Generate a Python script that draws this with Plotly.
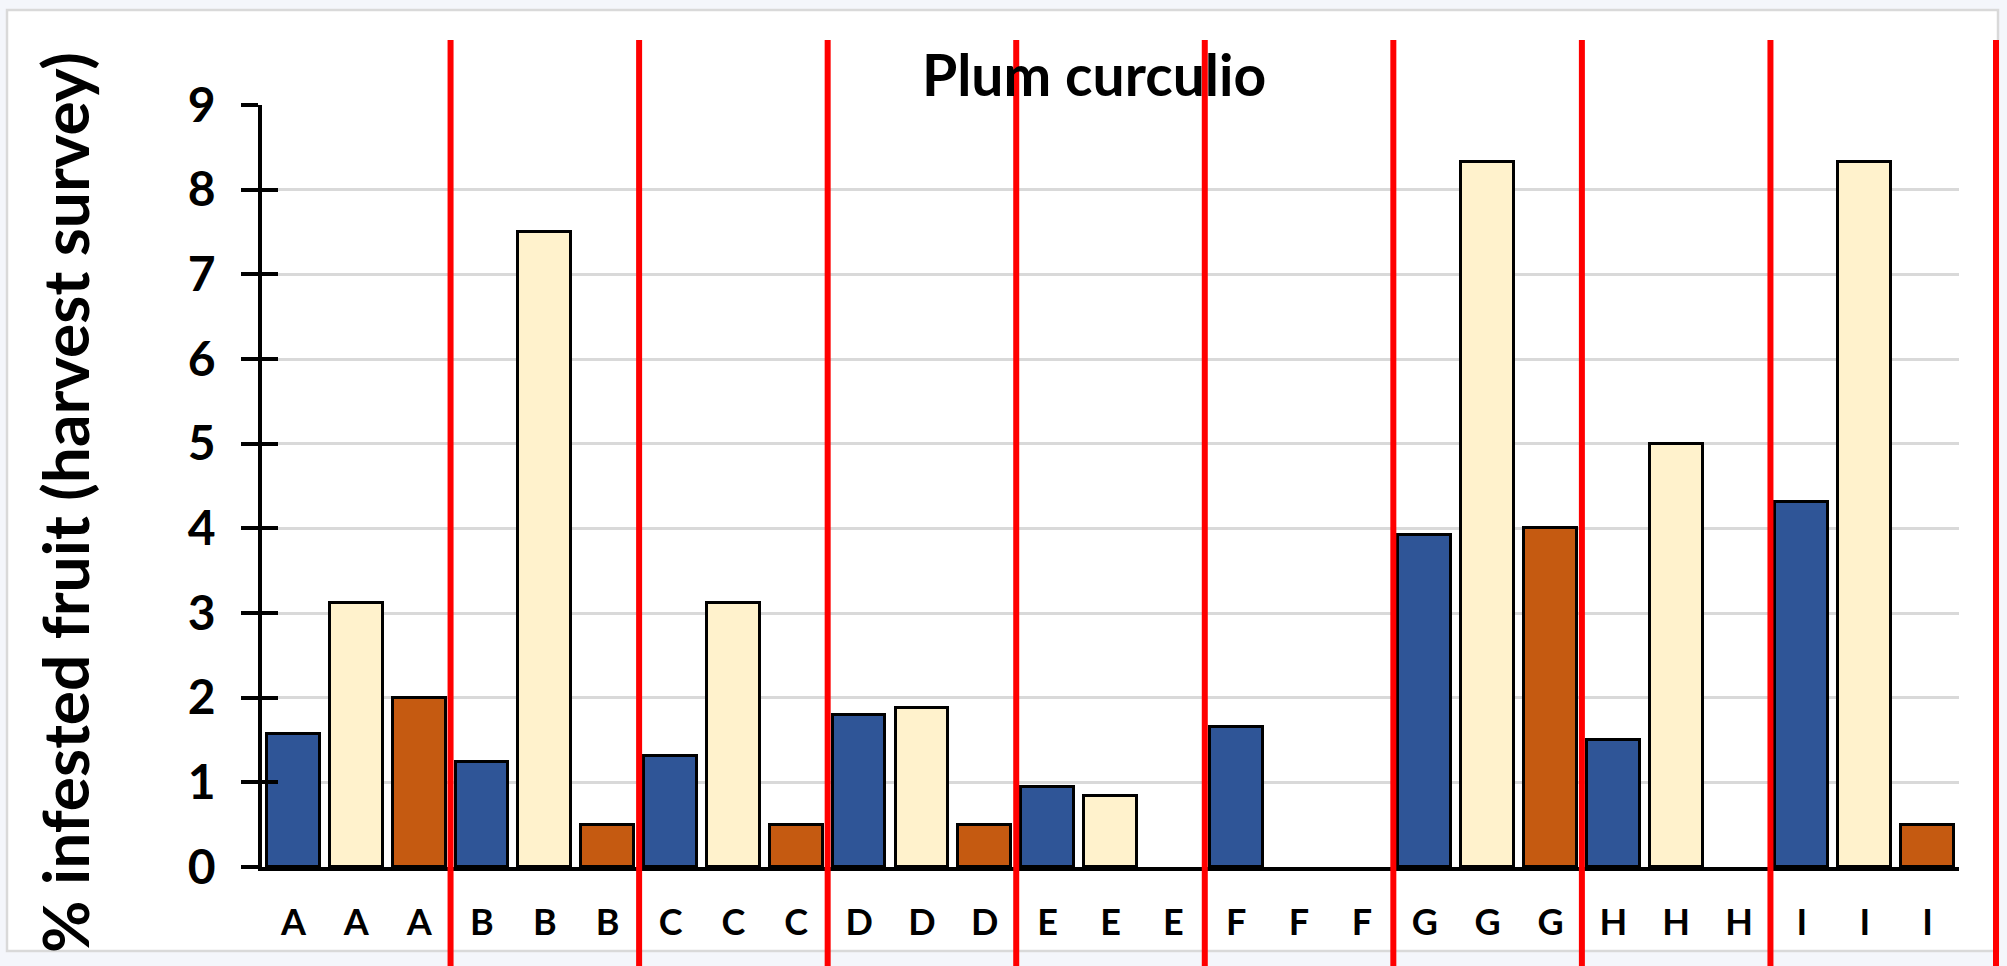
import plotly.graph_objects as go

# ---- data ----
sites = ["A", "B", "C", "D", "E", "F", "G", "H", "I"]
tick_labels = [s for s in sites for _ in range(3)]
series_blue = [1.57, 1.24, 1.31, 1.80, 0.94, 1.65, 3.92, 1.50, 4.31]
series_cream = [3.12, 7.50, 3.12, 1.88, 0.84, 0.00, 8.33, 5.00, 8.33]
series_orange = [2.00, 0.50, 0.50, 0.50, 0.00, 0.00, 4.00, 0.00, 0.50]
title_text = "Plum curculio"
y_title = "% infested fruit (harvest survey)"

colors = ["#2F5597", "#FFF2CC", "#C55A11"]
FONT = "Lato"

W, H = 2007, 966
ML, MR, MT, MB = 262, 48, 105, 99
PW = W - ML - MR
PH = H - MT - MB
ncat = len(tick_labels)

fig = go.Figure()
for k, (vals, col) in enumerate(zip([series_blue, series_cream, series_orange], colors)):
    fig.add_trace(go.Bar(
        x=[3 * i + k for i in range(len(sites))],
        y=vals,
        width=0.84,
        marker=dict(color=col,
                    line=dict(color="black", width=[3 if v > 0 else 0 for v in vals])),
        showlegend=False,
        yaxis="y",
        hoverinfo="skip",
    ))

# invisible trace for overlay axis (inside ticks)
fig.add_trace(go.Scatter(x=[0], y=[0], mode="markers", marker=dict(opacity=0),
                         yaxis="y2", showlegend=False, hoverinfo="skip"))

def px2paper_x(px):
    return (px - ML) / PW

def px2paper_y(py):
    return (H - MB - py) / PH

shapes = []
# outer chart border
shapes.append(dict(type="rect", xref="paper", yref="paper",
                   x0=px2paper_x(7), x1=px2paper_x(1998),
                   y0=px2paper_y(951), y1=px2paper_y(10),
                   line=dict(color="#D9D9D9", width=2.5), fillcolor="white", layer="below"))
# red separator lines between site groups
for g in range(1, len(sites) + 1):
    xb = (3 * g) / ncat
    if g == len(sites):
        xb = px2paper_x(1996)
    shapes.append(dict(type="line", xref="paper", yref="paper",
                       x0=xb, x1=xb, y0=-0.2, y1=px2paper_y(40),
                       line=dict(color="#FF0000", width=6), layer="above"))

annotations = [
    dict(text=title_text, xref="paper", yref="paper", x=px2paper_x(1094), y=px2paper_y(74),
         xanchor="center", yanchor="middle", showarrow=False,
         font=dict(family=FONT, size=57, color="black", weight="bold")),
    dict(text=y_title, xref="paper", yref="paper", x=px2paper_x(64), y=px2paper_y(503),
         xanchor="center", yanchor="middle", showarrow=False, textangle=-90,
         font=dict(family=FONT, size=64, color="black", weight="bold")),
]

fig.update_layout(
    width=W, height=H,
    margin=dict(l=ML, r=MR, t=MT, b=MB, autoexpand=False),
    paper_bgcolor="#F4F6FB",
    plot_bgcolor="white",
    barmode="overlay",
    bargap=0,
    shapes=shapes,
    annotations=annotations,
    hovermode=False,
    xaxis=dict(
        range=[-0.5, ncat - 0.5],
        tickmode="array",
        tickvals=list(range(ncat)),
        ticktext=tick_labels,
        showline=True, linecolor="black", linewidth=3.5,
        ticks="", showgrid=False, zeroline=False,
        tickfont=dict(family=FONT, size=36, color="black", weight="bold"),
        ticklabelstandoff=21,
        automargin=False,
    ),
    yaxis=dict(
        range=[0, 9], dtick=1, tick0=0,
        showline=True, linecolor="black", linewidth=3.5,
        ticks="outside", ticklen=17, tickwidth=3.5, tickcolor="black",
        showgrid=True, gridcolor="#D9D9D9", gridwidth=2.5,
        zeroline=False,
        tickfont=dict(family=FONT, size=48, color="black", weight="bold"),
        ticklabelstandoff=16,
        automargin=False,
    ),
    yaxis2=dict(
        range=[0, 9], dtick=1, tick0=0, overlaying="y", side="left",
        showline=False, ticks="inside", ticklen=16, tickwidth=3.5, tickcolor="black",
        showticklabels=False, showgrid=False, zeroline=False,
    ),
)

fig.write_html("out.html", config={"displayModeBar": False},
               post_script="document.body.style.margin='0';document.body.style.overflow='hidden';")
